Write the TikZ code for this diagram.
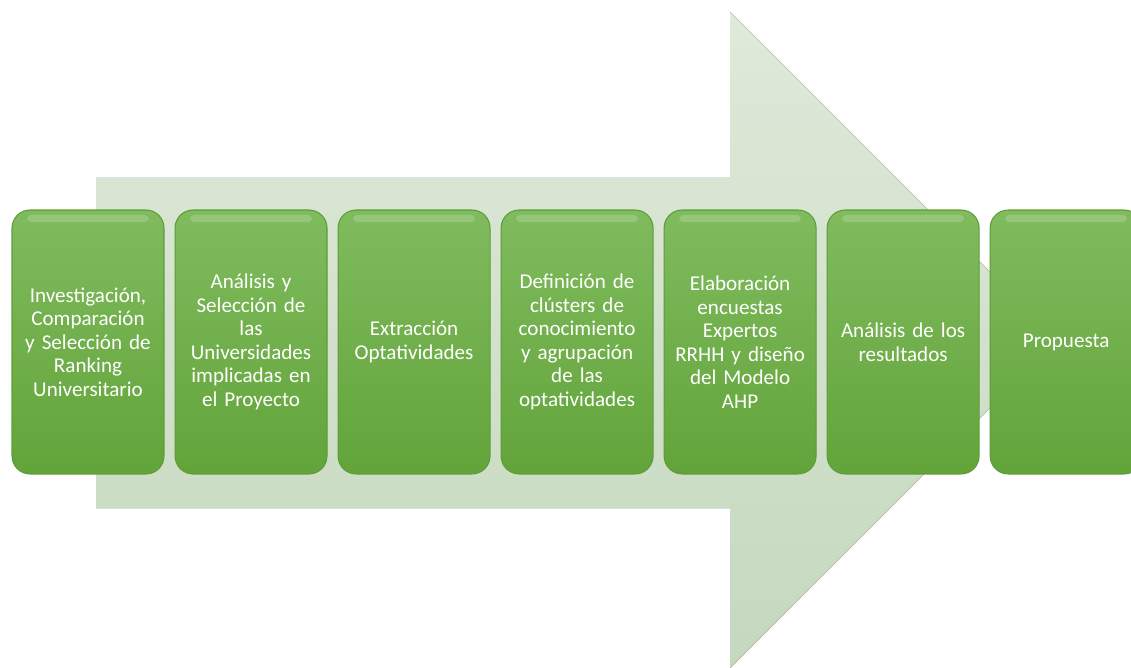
\documentclass[tikz,border=0pt]{standalone}
\usepackage{fontspec}
\setmainfont{Carlito}
\usetikzlibrary{positioning}
\definecolor{step top}{HTML}{80BB5E}
\definecolor{step bottom}{HTML}{62A43A}
\definecolor{step edge}{HTML}{5E9C38}
\definecolor{arrow top}{HTML}{DFEADA}
\definecolor{arrow bottom}{HTML}{C5D8BE}
\def\bigarrow{(96,178) -- (730,178) -- (730,12) -- (1058,340) -- (730,668) -- (730,508) -- (96,508) -- cycle}
\tikzset{stepbox/.style={rounded corners=0.36cm, minimum width=3.04cm,
    minimum height=5.28cm, inner sep=0pt, text width=3cm, align=center,
    text=white, font=\fontsize{12}{13.4}\selectfont,
    top color=step top, bottom color=step bottom, draw=step edge, line width=0.6pt,
    path picture={\fill[white, opacity=0.18, rounded corners=0.08cm]
      ([xshift=0.3cm, yshift=-0.1cm]path picture bounding box.north west) rectangle
      ([xshift=-0.3cm, yshift=-0.24cm]path picture bounding box.north east);}},
    backarrow/.style={top color=arrow top, bottom color=arrow bottom}}

\begin{document}
\begin{tikzpicture}[x=0.02cm, y=-0.02cm, node distance=0.2cm]
    \useasboundingbox (0,0) rectangle (1131,668);
    \clip (0,0) rectangle (1131,668);
    \fill[backarrow] \bigarrow;
    \node[stepbox] (s1) at (88,342)
      {Investigación,\\Comparación\\y Selección de\\Ranking\\Universitario};
    \node[stepbox, right=of s1] (s2)
      {Análisis y\\Selección de\\las\\Universidades\\implicadas en\\el Proyecto};
    \node[stepbox, right=of s2] (s3) {Extracción\\Optatividades};
    \node[stepbox, right=of s3] (s4)
      {Definición de\\clústers de\\conocimiento\\y agrupación\\de las\\optatividades};
    \node[stepbox, right=of s4] (s5)
      {Elaboración\\encuestas\\Expertos\\RRHH y diseño\\del Modelo\\AHP};
    \node[stepbox, right=of s5] (s6) {Análisis de los\\resultados};
    \node[stepbox, right=of s6] (s7) {Propuesta};
\end{tikzpicture}
\end{document}
